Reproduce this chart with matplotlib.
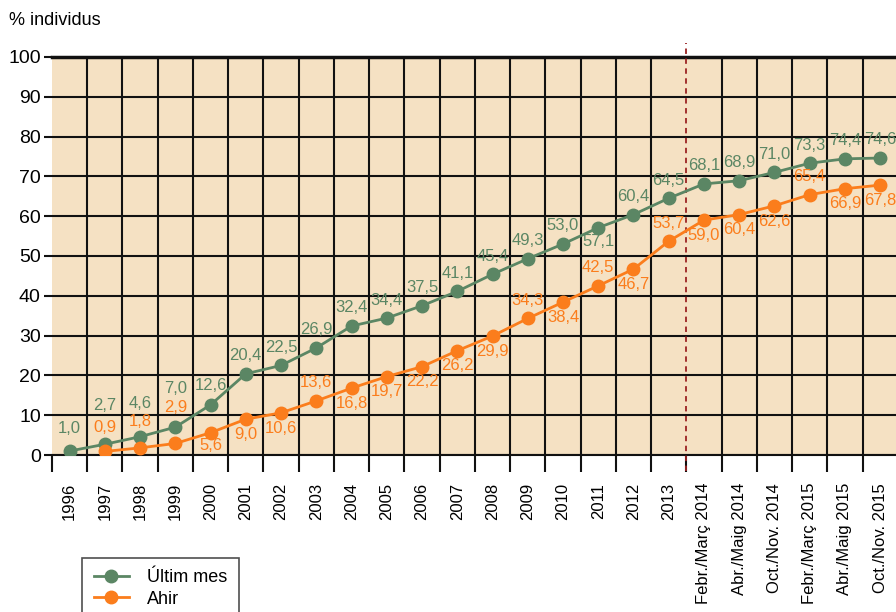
import numpy as np
import matplotlib.pyplot as plt
from matplotlib.ticker import MultipleLocator

plt.rcParams['font.family'] = ['Liberation Sans', 'DejaVu Sans']

periodes = ['1996', '1997', '1998', '1999', '2000', '2001', '2002', '2003',
            '2004', '2005', '2006', '2007', '2008', '2009', '2010', '2011',
            '2012', '2013', 'Febr./Març 2014', 'Abr./Maig 2014',
            'Oct./Nov. 2014', 'Febr./Març 2015', 'Abr./Maig 2015',
            'Oct./Nov. 2015']
ultim_mes = [1.0, 2.7, 4.6, 7.0, 12.6, 20.4, 22.5, 26.9, 32.4, 34.4, 37.5,
             41.1, 45.4, 49.3, 53.0, 57.1, 60.4, 64.5, 68.1, 68.9, 71.0,
             73.3, 74.4, 74.6]
ahir = [np.nan, 0.9, 1.8, 2.9, 5.6, 9.0, 10.6, 13.6, 16.8, 19.7, 22.2, 26.2,
        29.9, 34.3, 38.4, 42.5, 46.7, 53.7, 59.0, 60.4, 62.6, 65.4, 66.9,
        67.8]

# label offsets in points (positive = above the point, negative = below)
off_ultim = [16, 28, 24, 28, 14] + [13] * 10 + [-10] + [13] * 8
off_ahir = [0, 17, 19, 26, -9, -11, -11, 13, -11, -11, -11, -11, -11, 13,
            -11, 13, -11, 13, -11, -11, -11, 13, -11, -11]

verd = '#5b8664'
taronja = '#fb7d1c'
fons = '#f5e1c3'

x = np.arange(len(periodes))

fig = plt.figure(figsize=(8.96, 6.12), dpi=100)
ax = fig.add_axes([0.058, 0.2565, 0.944, 0.6505])
ax.set_facecolor(fons)

ax.plot(x, ultim_mes, color=verd, lw=2, marker='o', ms=9, label='Últim mes',
        zorder=4)
ax.plot(x, ahir, color=taronja, lw=2, marker='o', ms=9, label='Ahir',
        zorder=4)

def etiquetes(vals, offs, color):
    for xi, v, o in zip(x, vals, offs):
        if np.isnan(v):
            continue
        ax.annotate(f'{v:.1f}'.replace('.', ','), (xi, v),
                    xytext=(0, o), textcoords='offset points',
                    ha='center', va='center', color=color, fontsize=12,
                    zorder=5)

etiquetes(ultim_mes, off_ultim, verd)
etiquetes(ahir, off_ahir, taronja)

ax.set_xlim(-0.5, len(periodes) - 0.5)
ax.set_ylim(0, 100)
ax.yaxis.set_major_locator(MultipleLocator(10))
ax.grid(axis='y', color='#111111', lw=1.5, zorder=1)

# vertical grid at the column boundaries, dashed separator before 2014
for b in np.arange(0.5, len(periodes) - 0.5):
    if b == 17.5:
        continue
    ax.axvline(b, color='#111111', lw=1.5, zorder=1)
ax.plot([17.5, 17.5], [-4, 103.5], color='#9b2323', lw=1.3, ls=(0, (3, 2.5)),
        clip_on=False, zorder=3)

ax.set_xticks(x)
ax.set_xticklabels(periodes, rotation=90, fontsize=12)
ax.tick_params(axis='x', length=0, pad=20)
ax.set_xticks(np.arange(-0.5, len(periodes) - 0.5), minor=True)
ax.tick_params(axis='x', which='minor', length=12, width=1.5, color='#111111')
ax.tick_params(axis='y', labelsize=14, length=6, width=1.5, color='#111111',
               pad=2)

for s in ['right', 'left']:
    ax.spines[s].set_visible(False)
ax.spines['top'].set_linewidth(2.5)
ax.spines['bottom'].set_linewidth(1.5)
ax.spines['top'].set_color('#111111')
ax.spines['bottom'].set_color('#111111')

fig.text(0.010, 0.967, '% individus', fontsize=13, ha='left', va='center')

leg = fig.legend(loc='upper left', bbox_to_anchor=(0.0915, 0.089),
                 borderaxespad=0, fontsize=13, frameon=True, fancybox=False,
                 edgecolor='#222222', handlelength=1.95, handletextpad=1.0,
                 borderpad=0.65, labelspacing=0.25)
leg.get_frame().set_linewidth(1.2)

fig.savefig('out.png', dpi=100)
